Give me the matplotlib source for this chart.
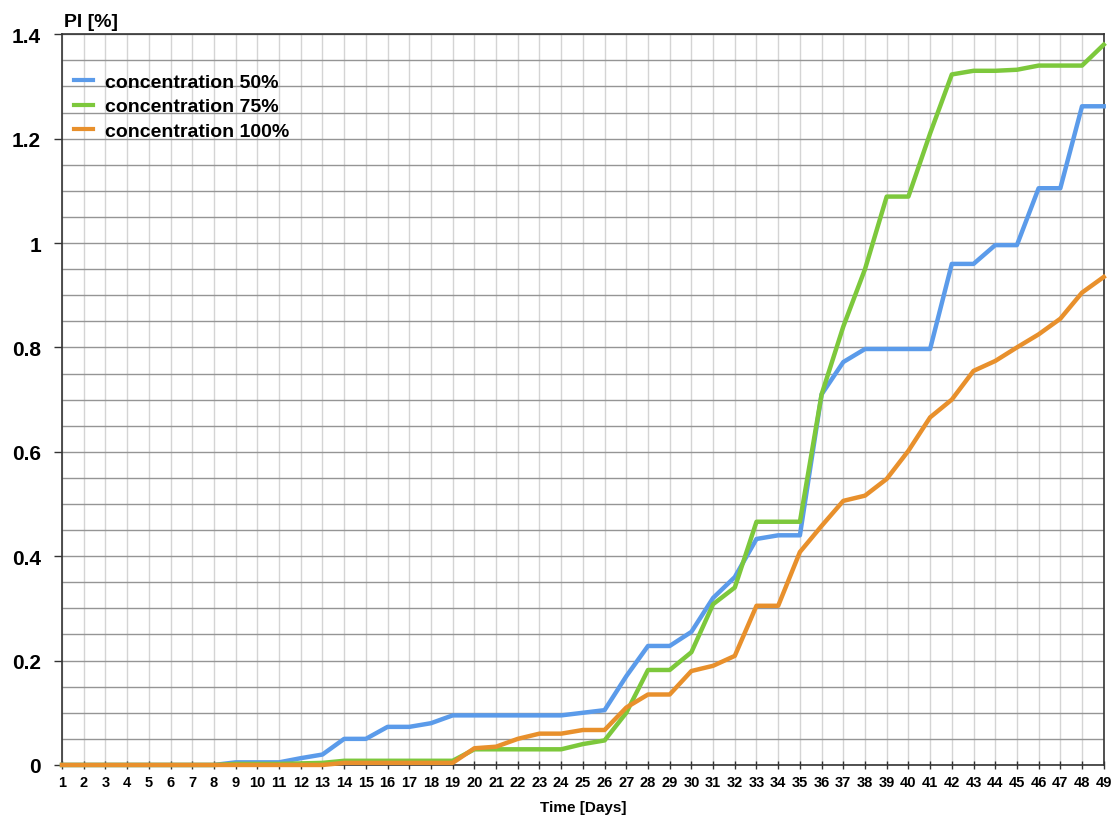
import matplotlib
matplotlib.use("Agg")
import matplotlib.pyplot as plt
from matplotlib.ticker import MultipleLocator

plt.rcParams["font.family"] = ["Liberation Sans", "DejaVu Sans"]

days = list(range(1, 50))
conc50 = [0, 0, 0, 0, 0, 0, 0, 0, 0.005, 0.005, 0.005, 0.013, 0.02, 0.05, 0.05,
          0.073, 0.073, 0.08, 0.095, 0.095, 0.095, 0.095, 0.095, 0.095, 0.1, 0.105,
          0.17, 0.228, 0.228, 0.255, 0.32, 0.36, 0.433, 0.44, 0.44, 0.71, 0.772,
          0.797, 0.797, 0.797, 0.797, 0.96, 0.96, 0.996, 0.996, 1.105, 1.105, 1.262, 1.262]
conc75 = [0, 0, 0, 0, 0, 0, 0, 0, 0.002, 0.002, 0.002, 0.003, 0.004, 0.008, 0.008,
          0.008, 0.008, 0.008, 0.008, 0.03, 0.03, 0.03, 0.03, 0.03, 0.04, 0.047,
          0.1, 0.182, 0.182, 0.216, 0.308, 0.34, 0.466, 0.466, 0.466, 0.71, 0.84,
          0.95, 1.089, 1.089, 1.21, 1.323, 1.33, 1.33, 1.332, 1.34, 1.34, 1.34, 1.38]
conc100 = [0, 0, 0, 0, 0, 0, 0, 0, 0, 0, 0, 0, 0, 0.004, 0.004,
           0.004, 0.004, 0.004, 0.004, 0.032, 0.035, 0.05, 0.06, 0.06, 0.067, 0.067,
           0.11, 0.135, 0.135, 0.18, 0.19, 0.209, 0.305, 0.305, 0.408, 0.458, 0.506,
           0.516, 0.548, 0.602, 0.666, 0.70, 0.755, 0.774, 0.80, 0.825, 0.855, 0.905, 0.935]
labels = ["concentration 50%", "concentration 75%", "concentration 100%"]
colors = ["#5b9bea", "#7dc83c", "#e8902c"]

fig = plt.figure(figsize=(11.16, 8.2), dpi=100)
ax = fig.add_axes([0.0556, 0.0659, 0.9334, 0.8911])

for vals, lab, col in zip([conc50, conc75, conc100], labels, colors):
    ax.plot(days, vals, color=col, lw=3.2, label=lab, clip_on=False, zorder=5,
            solid_joinstyle="round")

ax.set_xlim(1, 49)
ax.set_ylim(0, 1.4)
ax.yaxis.set_minor_locator(MultipleLocator(0.05))
ax.set_yticks([0, 0.2, 0.4, 0.6, 0.8, 1.0, 1.2, 1.4])
ax.set_yticklabels(["0", "0.2", "0.4", "0.6", "0.8", "1", "1.2", "1.4"],
                   fontsize=15, fontweight="bold")
ax.set_xticks(days)
ax.set_xticklabels([str(d) for d in days], fontsize=10.5, fontweight="bold")

ax.grid(True, which="major", axis="x", color="#d4d4d4", lw=1)
ax.grid(True, which="both", axis="y", color="#959595", lw=1)
ax.set_axisbelow(True)

for s in ax.spines.values():
    s.set_color("#333333")
    s.set_linewidth(1.2)

ax.tick_params(axis="x", direction="inout", length=6, width=1, color="#333333", pad=4)
ax.tick_params(axis="y", which="major", direction="out", length=6, width=1, color="#333333", pad=9)
ax.tick_params(axis="y", which="minor", length=0)

ax.set_xlabel("Time [Days]", fontsize=11, fontweight="bold", labelpad=8)
fig.text(0.057, 0.962, "PI [%]", fontsize=14, fontweight="bold", ha="left", va="bottom")

leg = ax.legend(loc="upper left", bbox_to_anchor=(-0.002, 0.965), frameon=False,
                prop={"size": 14, "weight": "bold"}, handlelength=1.0,
                handletextpad=0.6, labelspacing=0.35, borderaxespad=0.3)
for h in leg.get_lines():
    h.set_linewidth(3)

fig.savefig("out.png", dpi=100)
